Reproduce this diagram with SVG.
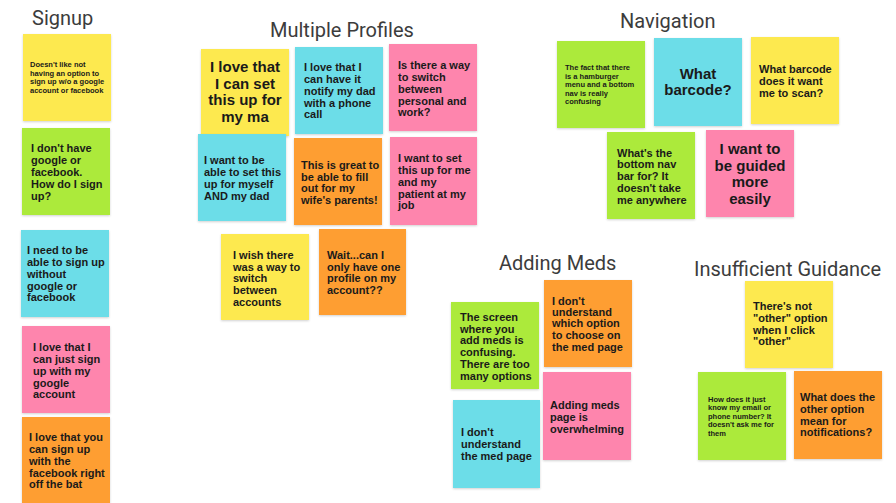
<svg xmlns="http://www.w3.org/2000/svg" width="896" height="503" viewBox="0 0 896 503">
<defs>
<filter id="sh" x="-10%" y="-10%" width="120%" height="120%"><feDropShadow dx="0" dy="1" stdDeviation="1" flood-color="#000" flood-opacity="0.18"/></filter>
</defs>
<style>
.t{font-family:Roboto,"Liberation Sans",sans-serif;font-size:20px;fill:#3c3c3c}
.n rect{filter:url(#sh)}
.y{fill:#fde94f}.g{fill:#acea3a}.c{fill:#6cdde8}.p{fill:#fe85ad}.o{fill:#fe9e30}
text.s,text.m,text.l{font-family:"Liberation Sans",Arial,sans-serif;font-weight:bold;fill:#1a1a1a}
.s{font-size:7.5px}.m{font-size:11px}.l{font-size:15px}
</style>
<rect width="896" height="503" fill="#fff"/>
<g id="titles">
<text class="t" x="32" y="25">Signup</text>
<text class="t" x="270" y="37">Multiple Profiles</text>
<text class="t" x="620" y="28">Navigation</text>
<text class="t" x="499" y="270">Adding Meds</text>
<text class="t" x="694" y="276">Insufficient Guidance</text>
</g>
<g id="signup">
<g id="s1" class="n"><rect class="y" x="23" y="34" width="88" height="87"/><text class="s" x="30" y="67"><tspan x="30">Doesn't like not</tspan><tspan x="30" dy="8.6">having an option to</tspan><tspan x="30" dy="8.6">sign up w/o a google</tspan><tspan x="30" dy="8.6">account or facebook</tspan></text></g>
<g id="s2" class="n"><rect class="g" x="22" y="128" width="88" height="87"/><text class="m" x="31" y="152"><tspan x="31">I don't have</tspan><tspan x="31" dy="12">google or</tspan><tspan x="31" dy="12">facebook.</tspan><tspan x="31" dy="12">How do I sign</tspan><tspan x="31" dy="12">up?</tspan></text></g>
<g id="s3" class="n"><rect class="c" x="21" y="230" width="88" height="87"/><text class="m" x="27" y="254"><tspan x="27">I need to be</tspan><tspan x="27" dy="12">able to sign up</tspan><tspan x="27" dy="12">without</tspan><tspan x="27" dy="12">google or</tspan><tspan x="27" dy="11">facebook</tspan></text></g>
<g id="s4" class="n"><rect class="p" x="22" y="326" width="88" height="87"/><text class="m" x="33" y="351"><tspan x="33">I love that I</tspan><tspan x="33" dy="12">can just sign</tspan><tspan x="33" dy="12">up with my</tspan><tspan x="33" dy="12">google</tspan><tspan x="33" dy="11">account</tspan></text></g>
<g id="s5" class="n"><rect class="o" x="22" y="417" width="88" height="90"/><text class="m" x="29" y="441"><tspan x="29">I love that you</tspan><tspan x="29" dy="12">can sign up</tspan><tspan x="29" dy="12">with the</tspan><tspan x="29" dy="12">facebook right</tspan><tspan x="29" dy="11">off the bat</tspan></text></g>
</g>
<g id="profiles">
<g id="p1" class="n"><rect class="y" x="201" y="49" width="88" height="87"/><text class="l" text-anchor="middle" x="245" y="72"><tspan x="245">I love that</tspan><tspan x="245" dy="17">I can set</tspan><tspan x="245" dy="16">this up for</tspan><tspan x="245" dy="17">my ma</tspan></text></g>
<g id="p2" class="n"><rect class="c" x="295" y="47" width="88" height="87"/><text class="m" x="304" y="71"><tspan x="304">I love that I</tspan><tspan x="304" dy="12">can have it</tspan><tspan x="304" dy="12">notify my dad</tspan><tspan x="304" dy="12">with a phone</tspan><tspan x="304" dy="11">call</tspan></text></g>
<g id="p3" class="n"><rect class="p" x="389" y="44" width="88" height="87"/><text class="m" x="398" y="69"><tspan x="398">Is there a way</tspan><tspan x="398" dy="12">to switch</tspan><tspan x="398" dy="12">between</tspan><tspan x="398" dy="12">personal and</tspan><tspan x="398" dy="11">work?</tspan></text></g>
<g id="p4" class="n"><rect class="c" x="198" y="134" width="88" height="87"/><text class="m" x="204" y="164"><tspan x="204">I want to be</tspan><tspan x="204" dy="12">able to set this</tspan><tspan x="204" dy="12">up for myself</tspan><tspan x="204" dy="12">AND my dad</tspan></text></g>
<g id="p5" class="n"><rect class="o" x="294" y="138" width="88" height="87"/><text class="m" x="301" y="169"><tspan x="301">This is great to</tspan><tspan x="301" dy="12">be able to fill</tspan><tspan x="301" dy="11">out for my</tspan><tspan x="301" dy="12">wife's parents!</tspan></text></g>
<g id="p6" class="n"><rect class="p" x="390" y="137" width="87" height="88"/><text class="m" x="398" y="162"><tspan x="398">I want to set</tspan><tspan x="398" dy="12">this up for me</tspan><tspan x="398" dy="12">and my</tspan><tspan x="398" dy="12">patient at my</tspan><tspan x="398" dy="11">job</tspan></text></g>
<g id="p7" class="n"><rect class="y" x="221" y="234" width="88" height="86"/><text class="m" x="233" y="259"><tspan x="233">I wish there</tspan><tspan x="233" dy="12">was a way to</tspan><tspan x="233" dy="11">switch</tspan><tspan x="233" dy="12">between</tspan><tspan x="233" dy="12">accounts</tspan></text></g>
<g id="p8" class="n"><rect class="o" x="319" y="229" width="87" height="86"/><text class="m" x="327" y="259"><tspan x="327">Wait...can I</tspan><tspan x="327" dy="12">only have one</tspan><tspan x="327" dy="11">profile on my</tspan><tspan x="327" dy="12">account??</tspan></text></g>
</g>
<g id="navigation">
<g id="n1" class="n"><rect class="g" x="557" y="41" width="88" height="87"/><text class="s" x="565" y="70"><tspan x="565">The fact that there</tspan><tspan x="565" dy="8.5">is a hamburger</tspan><tspan x="565" dy="8.5">menu and a bottom</tspan><tspan x="565" dy="8.5">nav is really</tspan><tspan x="565" dy="8.5">confusing</tspan></text></g>
<g id="n2" class="n"><rect class="c" x="654" y="38" width="88" height="88"/><text class="l" text-anchor="middle" x="698" y="79"><tspan x="698">What</tspan><tspan x="698" dy="16">barcode?</tspan></text></g>
<g id="n3" class="n"><rect class="y" x="751" y="37" width="88" height="87"/><text class="m" x="759" y="73"><tspan x="759">What barcode</tspan><tspan x="759" dy="12">does it want</tspan><tspan x="759" dy="12">me to scan?</tspan></text></g>
<g id="n4" class="n"><rect class="g" x="607" y="132" width="88" height="87"/><text class="m" x="617" y="157"><tspan x="617">What's the</tspan><tspan x="617" dy="11">bottom nav</tspan><tspan x="617" dy="12">bar for? It</tspan><tspan x="617" dy="12">doesn't take</tspan><tspan x="617" dy="12">me anywhere</tspan></text></g>
<g id="n5" class="n"><rect class="p" x="706" y="130" width="88" height="87"/><text class="l" text-anchor="middle" x="750" y="154"><tspan x="750">I want to</tspan><tspan x="750" dy="17">be guided</tspan><tspan x="750" dy="16">more</tspan><tspan x="750" dy="17">easily</tspan></text></g>
</g>
<g id="meds">
<g id="m1" class="n"><rect class="g" x="451" y="302" width="88" height="87"/><text class="m" x="460" y="321"><tspan x="460">The screen</tspan><tspan x="460" dy="12">where you</tspan><tspan x="460" dy="11">add meds is</tspan><tspan x="460" dy="12">confusing.</tspan><tspan x="460" dy="12">There are too</tspan><tspan x="460" dy="12">many options</tspan></text></g>
<g id="m2" class="n"><rect class="o" x="544" y="280" width="88" height="87"/><text class="m" x="552" y="305"><tspan x="552">I don't</tspan><tspan x="552" dy="11">understand</tspan><tspan x="552" dy="11">which option</tspan><tspan x="552" dy="12">to choose on</tspan><tspan x="552" dy="12">the med page</tspan></text></g>
<g id="m3" class="n"><rect class="c" x="453" y="400" width="87" height="88"/><text class="m" x="461" y="436"><tspan x="461">I don't</tspan><tspan x="461" dy="12">understand</tspan><tspan x="461" dy="12">the med page</tspan></text></g>
<g id="m4" class="n"><rect class="p" x="543" y="372" width="88" height="88"/><text class="m" x="550" y="409"><tspan x="550">Adding meds</tspan><tspan x="550" dy="12">page is</tspan><tspan x="550" dy="12">overwhelming</tspan></text></g>
</g>
<g id="guidance">
<g id="g1" class="n"><rect class="y" x="745" y="281" width="88" height="87"/><text class="m" x="753" y="310"><tspan x="753">There's not</tspan><tspan x="753" dy="12">"other" option</tspan><tspan x="753" dy="12">when I click</tspan><tspan x="753" dy="11">"other"</tspan></text></g>
<g id="g2" class="n"><rect class="g" x="698" y="372" width="88" height="88"/><text class="s" x="708" y="402"><tspan x="708">How does it just</tspan><tspan x="708" dy="8.4">know my email or</tspan><tspan x="708" dy="8.4">phone number? It</tspan><tspan x="708" dy="8.4">doesn't ask me for</tspan><tspan x="708" dy="8.4">them</tspan></text></g>
<g id="g3" class="n"><rect class="o" x="794" y="371" width="88" height="88"/><text class="m" x="800" y="401"><tspan x="800">What does the</tspan><tspan x="800" dy="12">other option</tspan><tspan x="800" dy="12">mean for</tspan><tspan x="800" dy="11">notifications?</tspan></text></g>
</g>
</svg>
